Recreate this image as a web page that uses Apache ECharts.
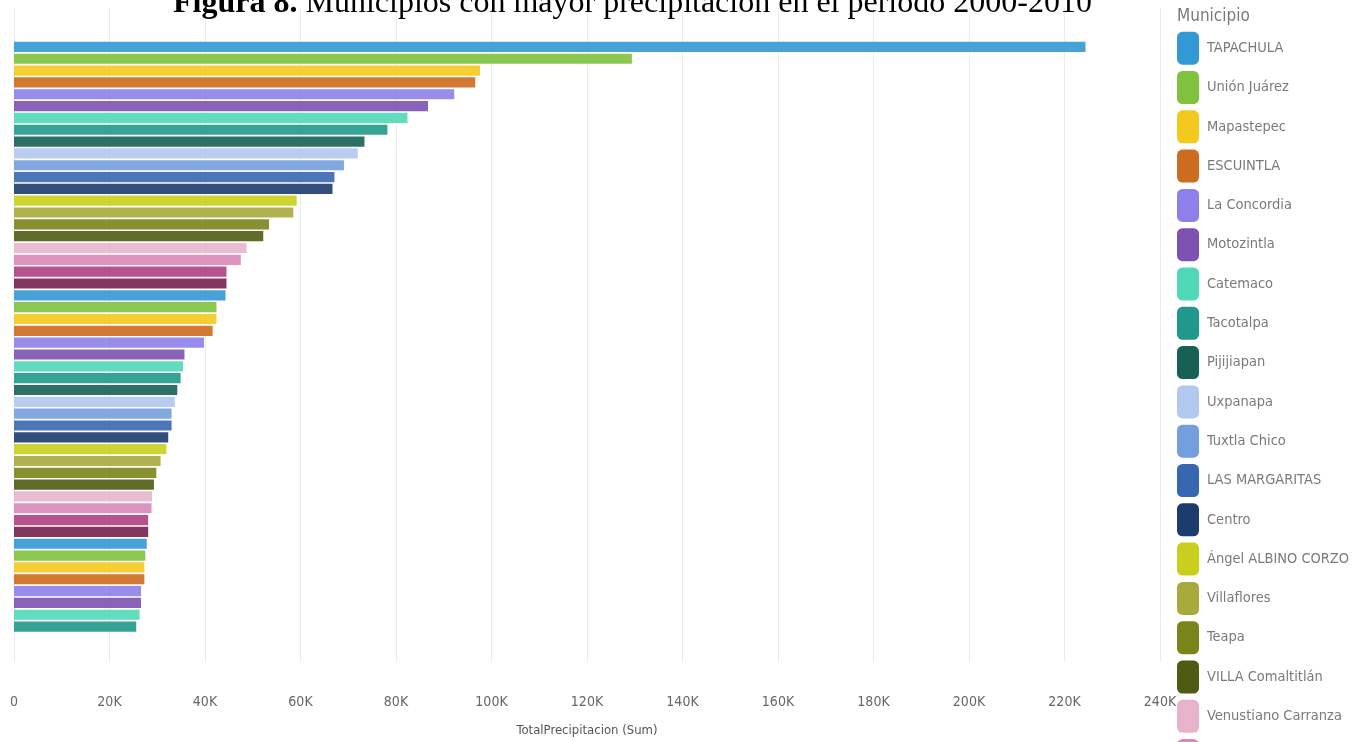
<!DOCTYPE html>
<html>
<head>
<meta charset="utf-8">
<script src="https://cdn.jsdelivr.net/npm/echarts@6/dist/echarts.min.js"></script>
<style>
html,body{margin:0;padding:0;background:#fff;}
#c{width:1356px;height:742px;}
</style>
</head>
<body>
<div id="c"></div>
<script>
// Municipalities (only the first 18 names are legible in the reference legend)
var municipios = [
  "TAPACHULA","Unión Juárez","Mapastepec","ESCUINTLA","La Concordia","Motozintla",
  "Catemaco","Tacotalpa","Pijijiapan","Uxpanapa","Tuxtla Chico","LAS MARGARITAS",
  "Centro","Ángel ALBINO CORZO","Villaflores","Teapa","VILLA Comaltitlán","Venustiano Carranza",
  "Municipio 19","Municipio 20","Municipio 21","Municipio 22","Municipio 23","Municipio 24",
  "Municipio 25","Municipio 26","Municipio 27","Municipio 28","Municipio 29","Municipio 30",
  "Municipio 31","Municipio 32","Municipio 33","Municipio 34","Municipio 35","Municipio 36",
  "Municipio 37","Municipio 38","Municipio 39","Municipio 40","Municipio 41","Municipio 42",
  "Municipio 43","Municipio 44","Municipio 45","Municipio 46","Municipio 47","Municipio 48",
  "Municipio 49","Municipio 50"
];
// TotalPrecipitacion (Sum)
var precipitacion = [
  224400,129400,97600,96600,92200,86700,82400,78200,73400,72000,69100,67100,
  66700,59200,58500,53400,52200,48700,47500,44500,44500,44300,42400,42400,
  41600,39800,35700,35400,34900,34200,33700,33000,33000,32300,31900,30700,
  29800,29300,28900,28800,28100,28100,27800,27500,27300,27300,26600,26600,
  26300,25600
];
var paleta = [
  "#3398d6","#80c13e","#f4c91e","#cd6b1e","#8d80ea","#7d51b0","#50d8b8",
  "#20998c","#166055","#b3c8ee","#73a0dd","#3867b2","#1c3c6e","#c9cf1c",
  "#a8aa3c","#7b8419","#4f5b12","#e8b4cc","#dc88b8","#b03f82","#76214f"
];
var xTicks = [0,20000,40000,60000,80000,100000,120000,140000,160000,180000,200000,220000,240000];
var legendCount = 19;

var narrow = "'DejaVu Sans'";
var stretch = 'condensed';

var series = municipios.map(function (name, i) {
  return {
    type: 'bar',
    name: name,
    stack: 'total',
    xAxisIndex: 0,
    yAxisIndex: 0,
    barWidth: '86%',
    itemStyle: { color: paleta[i % paleta.length], opacity: 0.9 },
    data: municipios.map(function (n, j) { return j === i ? precipitacion[i] : '-'; })
  };
});

var chart = echarts.init(document.getElementById('c'));
chart.setOption({
  animation: false,
  title: [{
    text: '{b|Figura 8.}{n| Municipios con mayor precipitación en el periodo 2000-2010}',
    left: 173, top: -12, padding: 0,
    textStyle: {
      rich: {
        b: { fontFamily: "'Liberation Serif','Times New Roman',serif", fontSize: 32, fontWeight: 'bold', color: '#000', lineHeight: 32 },
        n: { fontFamily: "'Liberation Serif','Times New Roman',serif", fontSize: 32, fontWeight: 'normal', color: '#000', lineHeight: 32 }
      }
    }
  }, {
    text: 'Municipio',
    left: 1177, top: 7, padding: 0,
    textStyle: { fontFamily: narrow, fontStyle: stretch, fontSize: 17, fontWeight: 'normal', color: '#7a7a7a', lineHeight: 19 }
  }],
  legend: {
    orient: 'vertical',
    left: 1177, top: 31.7, height: 900, padding: 0,
    itemWidth: 22, itemHeight: 33, itemGap: 6.3,
    icon: 'roundRect',
    selectedMode: false,
    data: municipios.slice(0, legendCount),
    itemStyle: { opacity: 1 },
    textStyle: { fontFamily: narrow, fontStyle: stretch, fontSize: 14.5, color: '#7a7a7a', padding: [3, 0, 0, 3] }
  },
  grid: [
    { left: 14, right: 196, top: 41, height: 591.5, containLabel: false },
    { left: 14, right: 196, top: 8, height: 658, containLabel: false }
  ],
  xAxis: [
    { type: 'value', gridIndex: 0, min: 0, max: 240000, show: false },
    {
      type: 'value', gridIndex: 1, min: 0, max: 240000, interval: 20000,
      axisLine: { show: false }, axisTick: { show: false },
      splitLine: { show: true, lineStyle: { color: '#e8eef0', width: 1 } },
      axisLabel: {
        margin: 33, fontFamily: narrow, fontStyle: stretch, fontSize: 14, color: '#666',
        formatter: function (v) { return v === 0 ? '0' : (v / 1000) + 'K'; }
      },
      name: 'TotalPrecipitacion (Sum)', nameLocation: 'middle', nameGap: 62,
      nameTextStyle: { fontFamily: narrow, fontStyle: stretch, fontSize: 13, color: '#555' }
    }
  ],
  yAxis: [
    { type: 'category', gridIndex: 0, data: municipios, inverse: true, show: false },
    { type: 'value', gridIndex: 1, min: 0, max: 1, show: false }
  ],
  series: series
});
</script>
</body>
</html>
